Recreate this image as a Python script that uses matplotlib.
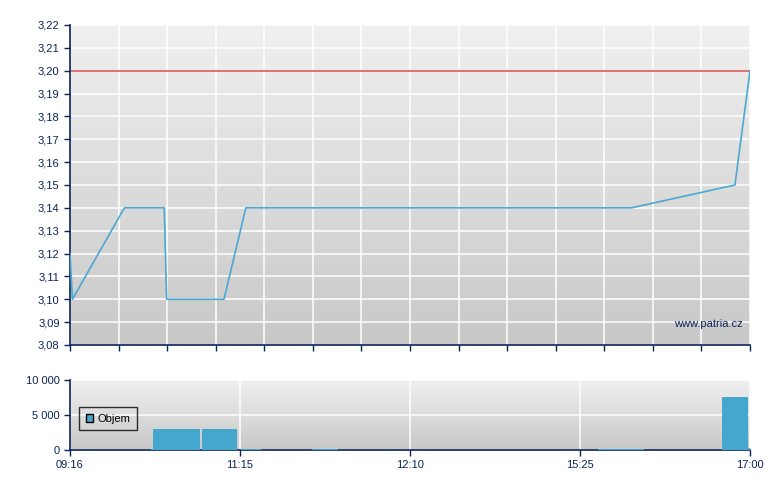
import matplotlib
matplotlib.use("Agg")
import matplotlib.pyplot as plt
import numpy as np
from matplotlib.ticker import FuncFormatter, MultipleLocator

plt.rcParams['font.family'] = ['Liberation Sans', 'DejaVu Sans']

# ---- data (x in trading-slot units, 0..14) ----
price_x = [0.0, 0.05, 1.12, 1.94, 1.99, 3.17, 3.62, 11.56, 13.69, 14.0]
price_y = [3.12, 3.10, 3.14, 3.14, 3.10, 3.10, 3.14, 3.14, 3.15, 3.20]
ref_price = 3.20

vol_left = [1.67, 1.71, 2.72, 3.52, 4.98, 10.87, 13.42, 13.96]
vol_width = [0.04, 0.97, 0.72, 0.41, 0.54, 0.94, 0.53, 0.04]
vol_value = [100, 3000, 3000, 140, 140, 100, 7600, 330]

bottom_tick_pos = [0, 3.5, 7, 10.5, 14]
bottom_tick_labels = ['09:16', '11:15', '12:10', '15:25', '17:00']

NAVY = '#0b2358'
LINE = '#4aa8d2'
BAR = '#45a6ce'
RED = '#e07070'

fig = plt.figure(figsize=(7.8, 4.9), dpi=100)
W, H = 780, 490
ax1 = fig.add_axes([70 / W, 1 - 345 / H, 680 / W, 320 / H])
ax2 = fig.add_axes([70 / W, 1 - 450 / H, 680 / W, 70 / H])


def gradient(ax):
    g = np.linspace(0, 1, 256).reshape(-1, 1)
    from matplotlib.colors import LinearSegmentedColormap
    cmap = LinearSegmentedColormap.from_list('g', ['#f0f0f0', '#c8c8c8'])
    ax.imshow(g, aspect='auto', cmap=cmap, extent=[0, 1, 0, 1],
              transform=ax.transAxes, zorder=-10, origin='upper')


for ax in (ax1, ax2):
    ax.set_facecolor('#e0e0e0')
    gradient(ax)
    for s in ('top', 'right'):
        ax.spines[s].set_visible(False)
    for s in ('left', 'bottom'):
        ax.spines[s].set_color(NAVY)
        ax.spines[s].set_linewidth(1.2)
    ax.tick_params(colors=NAVY, labelcolor=NAVY, length=4, width=1,
                   direction='out', labelsize=8)
    ax.grid(True, color='white', linewidth=1.1, zorder=0)
    ax.set_axisbelow(True)
    ax.set_xlim(0, 14)

# price chart
ax1.plot(price_x, price_y, color=LINE, linewidth=1.2, zorder=3)
ax1.axhline(ref_price, color=RED, linewidth=1.4, zorder=2)
ax1.set_ylim(3.08, 3.22)
ax1.yaxis.set_major_locator(MultipleLocator(0.01))
ax1.yaxis.set_major_formatter(FuncFormatter(lambda v, p: f'{v:.2f}'.replace('.', ',')))
ax1.xaxis.set_major_locator(MultipleLocator(1))
ax1.set_xticklabels([])
ax1.text(0.99, 0.065, 'www.patria.cz', transform=ax1.transAxes, ha='right',
         va='center', color=NAVY, fontsize=8)

# volume chart
ax2.bar(vol_left, vol_value, width=vol_width, align='edge', color=BAR,
        linewidth=0, zorder=3, label='Objem')
ax2.set_ylim(0, 10000)
ax2.set_yticks([0, 5000, 10000])
ax2.yaxis.set_major_formatter(FuncFormatter(lambda v, p: f'{int(v):,}'.replace(',', ' ')))
ax2.set_xticks(bottom_tick_pos)
ax2.set_xticklabels(bottom_tick_labels)
leg = ax2.legend(loc='center left', bbox_to_anchor=(0.005, 0.45), frameon=True,
                 fancybox=False, handlelength=0.7, handleheight=0.7,
                 handletextpad=0.4, borderpad=0.6, fontsize=8)
leg.get_frame().set_edgecolor('black')
leg.get_frame().set_facecolor('none')
leg.get_frame().set_linewidth(1)
for h in leg.legend_handles:
    h.set_edgecolor('black')
    h.set_linewidth(1)

fig.savefig('out.png', dpi=100)
